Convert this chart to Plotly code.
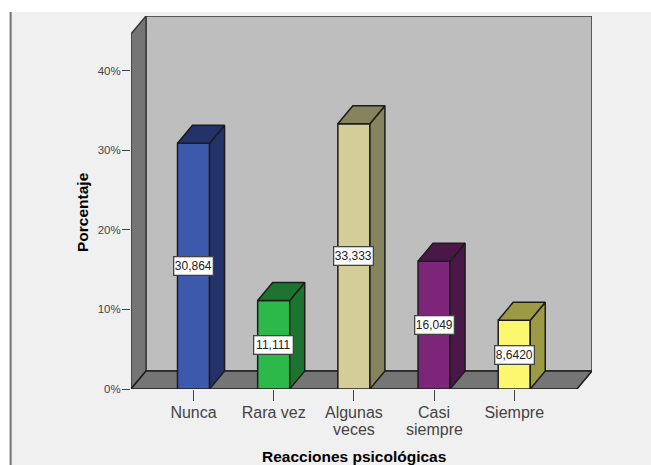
import plotly.graph_objects as go

# Survey results: share of responses per category
categories = ["Nunca", "Rara vez", "Algunas", "Casi", "Siempre"]
second_lines = ["", "", "veces", "siempre", ""]
values = [30.864, 11.111, 33.333, 16.049, 8.642]
value_labels = ["30,864", "11,111", "33,333", "16,049", "8,6420"]
front_colors = ["#3d59ab", "#2db84a", "#d3ce97", "#7d2679", "#fdf76f"]
shade_colors = ["#24326a", "#1c7430", "#86835f", "#4a1848", "#9d9a46"]
y_ticks = [0, 10, 20, 30, 40]
y_labels = ["0%", "10%", "20%", "30%", "40%"]

# Axis extents and the oblique offset of the 3D box, in data units
X_MIN, X_MAX = -0.78, 4.97
Y_MAX = 46.86
DEPTH_X, DEPTH_Y = 0.187, 2.26
X_FRONT_END = X_MAX - DEPTH_X
BAR_WIDTH = 0.40
EDGE = "#1c1c1c"
WALL_EDGE = "#3a3a3a"

W, H = 651, 465
M_L, M_R, M_T, M_B = 131, 59, 16, 76
PLOT_W, PLOT_H = W - M_L - M_R, H - M_T - M_B


def paper_x(px):
    return (px - M_L) / PLOT_W


def paper_y(px):
    return 1 - (px - M_T) / PLOT_H


def path(points):
    return "M" + " L".join(f"{x},{y}" for x, y in points) + " Z"


def face(points, fill):
    xs, ys = zip(*(points + points[:1]))
    return go.Scatter(x=xs, y=ys, mode="lines", fill="toself", fillcolor=fill,
                      line=dict(color=EDGE, width=1.5), hoverinfo="skip",
                      showlegend=False, cliponaxis=False)


fig = go.Figure()

# Bar fronts
fig.add_trace(go.Bar(x=list(range(len(values))), y=values, width=BAR_WIDTH,
                     marker=dict(color=front_colors, line=dict(color=EDGE, width=1.5)),
                     showlegend=False, hoverinfo="skip"))

# Side and top faces of each bar, offset from its value
for i, v in enumerate(values):
    left, right = i - BAR_WIDTH / 2, i + BAR_WIDTH / 2
    fig.add_trace(face([(right, 0), (right + DEPTH_X, DEPTH_Y),
                        (right + DEPTH_X, v + DEPTH_Y), (right, v)], shade_colors[i]))
    fig.add_trace(face([(left, v), (left + DEPTH_X, v + DEPTH_Y),
                        (right + DEPTH_X, v + DEPTH_Y), (right, v)], shade_colors[i]))

shapes = [
    # Page: white surround, grey rule at the left
    dict(type="rect", xref="paper", yref="paper", layer="below",
         x0=paper_x(0), x1=paper_x(W), y0=paper_y(0), y1=paper_y(12),
         fillcolor="white", line_width=0),
    dict(type="rect", xref="paper", yref="paper", layer="below",
         x0=paper_x(0), x1=paper_x(9), y0=paper_y(0), y1=paper_y(H),
         fillcolor="white", line_width=0),
    dict(type="rect", xref="paper", yref="paper", layer="below",
         x0=paper_x(9), x1=paper_x(12), y0=paper_y(12), y1=paper_y(H),
         fillcolor="#c8c8c8", line_width=0),
    dict(type="rect", xref="paper", yref="paper", layer="below",
         x0=paper_x(10), x1=paper_x(11.5), y0=paper_y(12), y1=paper_y(H),
         fillcolor="#767676", line_width=0),
    # Back wall, left wall and floor of the 3D box
    dict(type="path", layer="below", fillcolor="#bebebe",
         line=dict(color=WALL_EDGE, width=1.5),
         path=path([(X_MIN + DEPTH_X, DEPTH_Y), (X_MIN + DEPTH_X, Y_MAX),
                    (X_MAX, Y_MAX), (X_MAX, DEPTH_Y)])),
    dict(type="path", layer="below", fillcolor="#757575",
         line=dict(color=WALL_EDGE, width=1.5),
         path=path([(X_MIN, 0), (X_MIN, Y_MAX - DEPTH_Y),
                    (X_MIN + DEPTH_X, Y_MAX), (X_MIN + DEPTH_X, DEPTH_Y)])),
    dict(type="path", layer="below", fillcolor="#757575",
         line=dict(color=EDGE, width=1.5),
         path=path([(X_MIN, 0), (X_MIN + DEPTH_X, DEPTH_Y),
                    (X_MAX, DEPTH_Y), (X_FRONT_END, 0)])),
]

annotations = []
# Value boxes, centred on the bar fronts
for i, (v, label) in enumerate(zip(values, value_labels)):
    annotations.append(dict(x=i, y=v / 2, text=label, showarrow=False, width=38, height=17,
                            font=dict(family="Liberation Sans", size=12, color="#222222"),
                            bgcolor="white", bordercolor="#444444", borderwidth=1.3, borderpad=0))
# Second line of the wrapped category labels
for i, line in enumerate(second_lines):
    if line:
        annotations.append(dict(x=i, y=paper_y(429), xref="x", yref="paper", text=line,
                                showarrow=False, yanchor="middle",
                                font=dict(family="Liberation Sans", size=16, color="#444444")))
# Axis titles
annotations.append(dict(x=paper_x(353.5), y=paper_y(457), xref="paper", yref="paper",
                        text="<b>Reacciones psicológicas</b>", showarrow=False,
                        xanchor="center", yanchor="middle",
                        font=dict(family="Liberation Sans", size=15.5, color="black")))
annotations.append(dict(x=paper_x(82), y=paper_y(212), xref="paper", yref="paper",
                        text="<b>Porcentaje</b>", showarrow=False, textangle=-90,
                        xanchor="center", yanchor="middle",
                        font=dict(family="Liberation Sans", size=15.5, color="black")))

fig.update_layout(
    width=W, height=H,
    margin=dict(l=M_L, r=M_R, t=M_T, b=M_B),
    paper_bgcolor="#f0f0f0", plot_bgcolor="rgba(0,0,0,0)",
    shapes=shapes, annotations=annotations, showlegend=False,
    xaxis=dict(range=[X_MIN, X_MAX], tickmode="array", tickvals=list(range(len(categories))),
               ticktext=categories, ticks="outside", ticklen=11, tickwidth=1.2, tickcolor="#444444",
               ticklabelstandoff=-2,
               tickfont=dict(family="Liberation Sans", size=16, color="#444444"),
               showgrid=False, zeroline=False, showline=False),
    yaxis=dict(range=[0, Y_MAX], tickmode="array", tickvals=y_ticks, ticktext=y_labels,
               ticks="outside", ticklen=8, tickwidth=1.2, tickcolor="#444444",
               ticklabelstandoff=-1,
               tickfont=dict(family="Liberation Sans", size=11.5, color="#444444"),
               showgrid=False, zeroline=False, showline=False),
)

fig.write_html("out.html", config=dict(displayModeBar=False))
